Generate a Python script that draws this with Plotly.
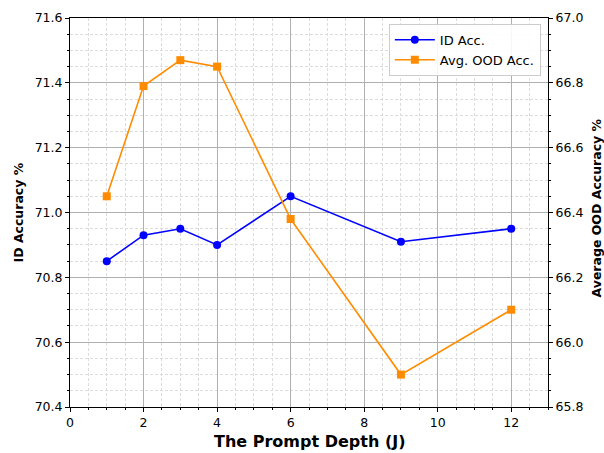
import plotly.graph_objects as go

depth = [1, 2, 3, 4, 6, 9, 12]
id_acc = [70.85, 70.93, 70.95, 70.90, 71.05, 70.91, 70.95]
ood_acc = [66.45, 66.79, 66.87, 66.85, 66.38, 65.90, 66.10]

x_ticks = [0, 2, 4, 6, 8, 10, 12]
y_ticks = [70.4, 70.6, 70.8, 71.0, 71.2, 71.4, 71.6]
y2_ticks = [65.8, 66.0, 66.2, 66.4, 66.6, 66.8, 67.0]

FONT = "DejaVu Sans"
MINOR_GRID = "#dcdcdc"

fig = go.Figure()
fig.add_trace(go.Scatter(
    x=depth, y=id_acc, name="ID Acc.", mode="lines+markers",
    line=dict(color="#0000ff", width=1.6),
    marker=dict(symbol="circle", size=8, color="#0000ff"),
    yaxis="y"))
fig.add_trace(go.Scatter(
    x=depth, y=ood_acc, name="Avg. OOD Acc.", mode="lines+markers",
    line=dict(color="#ff8c00", width=1.6),
    marker=dict(symbol="square", size=8, color="#ff8c00"),
    yaxis="y2"))

fig.update_layout(
    width=604, height=453,
    margin=dict(l=70, r=56, t=18, b=46, autoexpand=False),
    paper_bgcolor="white", plot_bgcolor="white",
    font=dict(family=FONT, size=12.5, color="#000"),
    showlegend=True,
    legend=dict(x=0.985, y=0.985, xanchor="right", yanchor="top",
                bgcolor="rgba(255,255,255,0.9)", bordercolor="#cccccc", borderwidth=1,
                font=dict(family=FONT, size=13), itemwidth=40),
    xaxis=dict(
        range=[0, 13], tickvals=x_ticks, ticktext=[str(v) for v in x_ticks],
        showline=True, linecolor="#000", linewidth=1, mirror=True,
        ticks="outside", ticklen=4, tickcolor="#000",
        showgrid=True, gridcolor="#b0b0b0", gridwidth=1,
        minor=dict(dtick=0.5, tick0=0, ticks="outside", ticklen=2, tickcolor="#000",
                   showgrid=True, gridcolor=MINOR_GRID, griddash="3px,2px", gridwidth=0.8),
        zeroline=False, automargin=False,
    ),
    yaxis=dict(
        range=[70.4, 71.6], tickvals=y_ticks, ticktext=[f"{v:.1f}" for v in y_ticks],
        showline=True, linecolor="#000", linewidth=1,
        ticks="outside", ticklen=4, tickcolor="#000",
        showgrid=True, gridcolor="#b0b0b0", gridwidth=1,
        minor=dict(dtick=0.05, tick0=70.4, ticks="outside", ticklen=2, tickcolor="#000",
                   showgrid=True, gridcolor=MINOR_GRID, griddash="3px,2px", gridwidth=0.8),
        zeroline=False, automargin=False,
    ),
    yaxis2=dict(
        range=[65.8, 67.0], tickvals=y2_ticks, ticktext=[f"{v:.1f}" for v in y2_ticks],
        overlaying="y", side="right",
        showline=True, linecolor="#000", linewidth=1,
        ticks="outside", ticklen=4, tickcolor="#000",
        showgrid=False,
        minor=dict(dtick=0.05, tick0=65.8, ticks="outside", ticklen=2, tickcolor="#000",
                   showgrid=False),
        zeroline=False, automargin=False,
    ),
    annotations=[
        dict(text="<b>The Prompt Depth (J)</b>", xref="paper", yref="paper", x=0.5, y=0,
             yshift=-34, showarrow=False,
             font=dict(family=FONT, size=16), xanchor="center", yanchor="middle"),
        dict(text="<b>ID Accuracy %</b>", xref="paper", yref="paper", x=0, y=0.5,
             xshift=-52, textangle=-90, showarrow=False,
             font=dict(family=FONT, size=12.5), xanchor="center", yanchor="middle"),
        dict(text="<b>Average OOD Accuracy %</b>", xref="paper", yref="paper", x=1, y=0.5,
             xshift=48, yshift=4, textangle=-90, showarrow=False,
             font=dict(family=FONT, size=12.5), xanchor="center", yanchor="middle"),
    ],
)

fig.write_html(
    "out.html",
    config={"displayModeBar": False},
    post_script="document.body.style.margin='0';document.body.style.overflow='hidden';",
)
